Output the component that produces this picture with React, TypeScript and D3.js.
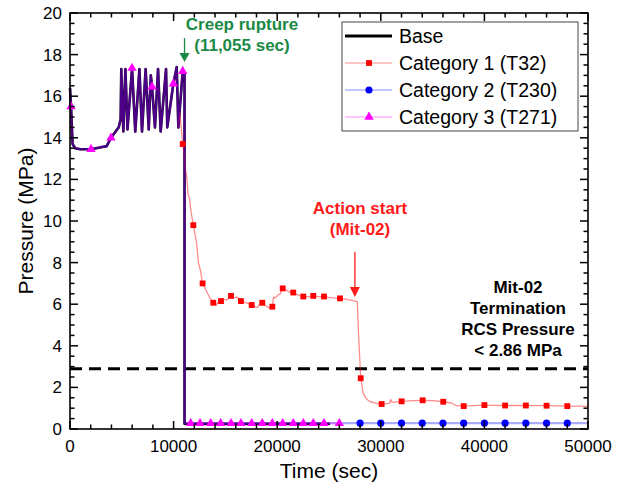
import React from "react";
import * as d3 from "d3";

// ---- data ----
const baseTime = [0, 100, 250, 500, 1000, 2030, 3000, 3540, 3960, 4400, 4700, 4890, 4950, 5150, 5350, 5550, 5990, 6300, 6700, 6950, 7300, 7600, 7800, 7920, 8200, 8500, 8750, 9270, 9390, 9975, 10300, 10460, 10880, 11055, 11055, 25100];
const basePressure = [16.4, 15.5, 13.7, 13.5, 13.45, 13.45, 13.55, 13.6, 14.0, 14.3, 14.5, 14.9, 17.3, 14.3, 17.3, 14.4, 17.35, 14.3, 17.3, 14.3, 17.3, 14.4, 17.0, 16.45, 14.5, 17.3, 14.3, 17.3, 14.5, 16.6, 17.4, 14.5, 17.2, 17.1, 0.25, 0.25];

const cat1Time = [10460, 10600, 10750, 10880, 11000, 11100, 11250, 11400, 11550, 11700, 11900, 12050, 12200, 12400, 12600, 12800, 13000, 13200, 13500, 13830, 14100, 14300, 14575, 14800, 15100, 15540, 15800, 16100, 16500, 16800, 17100, 17540, 17800, 18100, 18300, 18560, 18800, 19100, 19530, 19650, 19800, 20100, 20300, 20530, 20800, 21100, 21550, 22000, 22520, 23000, 23480, 24000, 24520, 25000, 25500, 26060, 26600, 27200, 27730, 27850, 28060, 28310, 28600, 28960, 29500, 30080, 30600, 30850, 30950, 31100, 32010, 33000, 34040, 35000, 36030, 36800, 37300, 38000, 39000, 40000, 41000, 42000, 43000, 44000, 45000, 46000, 47000, 48000, 49000, 50000];
const cat1Pressure = [14.5, 15.2, 14.4, 13.7, 13.3, 12.6, 12.2, 11.3, 11.0, 10.4, 9.8, 9.4, 9.0, 8.0, 7.6, 7.0, 6.8, 6.6, 6.3, 6.07, 5.95, 6.1, 6.15, 6.25, 6.2, 6.4, 6.3, 6.35, 6.15, 6.1, 6.05, 5.96, 5.9, 5.85, 6.0, 6.07, 5.95, 5.85, 5.88, 6.35, 6.3, 6.45, 6.5, 6.76, 6.7, 6.6, 6.56, 6.45, 6.37, 6.35, 6.4, 6.35, 6.37, 6.33, 6.3, 6.28, 6.24, 6.18, 6.12, 4.6, 2.44, 1.71, 1.45, 1.31, 1.24, 1.2, 1.22, 1.24, 1.42, 1.28, 1.33, 1.36, 1.38, 1.36, 1.31, 1.25, 1.12, 1.1, 1.12, 1.15, 1.14, 1.13, 1.13, 1.13, 1.12, 1.12, 1.11, 1.1, 1.1, 1.09];
const cat1MarkerTime = [10880, 11900, 12800, 13830, 14575, 15540, 16500, 17540, 18560, 19530, 20530, 21550, 22520, 23480, 24520, 26060, 28060, 30080, 32010, 34040, 36030, 38000, 40000, 42000, 44000, 46000, 48000];
const cat1MarkerPressure = [13.7, 9.8, 7.0, 6.07, 6.15, 6.4, 6.15, 5.96, 6.07, 5.88, 6.76, 6.56, 6.37, 6.4, 6.37, 6.28, 2.44, 1.2, 1.33, 1.38, 1.31, 1.1, 1.15, 1.13, 1.13, 1.12, 1.1];

const cat2PostTime = [11055, 50000];
const cat2PostPressure = [0.28, 0.28];
const cat2MarkerTime = [28000, 30000, 32000, 34000, 36000, 38000, 40000, 42000, 44000, 46000, 48000];
const cat2MarkerPressure = [0.28, 0.28, 0.28, 0.28, 0.28, 0.28, 0.28, 0.28, 0.28, 0.28, 0.28];

const cat3PostTime = [11055, 26000];
const cat3PostPressure = [0.27, 0.27];
const cat3MarkerTime = [100, 2030, 3960, 5990, 7920, 9975, 10880, 11650, 12550, 13580, 14540, 15540, 16500, 17540, 18560, 19530, 20530, 21550, 22520, 23480, 24520, 26000];
const cat3MarkerPressure = [15.5, 13.45, 14.0, 17.35, 16.45, 16.6, 17.2, 0.27, 0.27, 0.27, 0.27, 0.27, 0.27, 0.27, 0.27, 0.27, 0.27, 0.27, 0.27, 0.27, 0.27, 0.27];

const terminationLevel = 2.9;
const rupturePoint = 11055;
const actionPoint = 27500;

const xTicks = [0, 10000, 20000, 30000, 40000, 50000];
const yTicks = [0, 2, 4, 6, 8, 10, 12, 14, 16, 18, 20];
const legendLabels = ["Base", "Category 1 (T32)", "Category 2 (T230)", "Category 3 (T271)"];

const W = 626, H = 490;
const M = { left: 70, right: 588, top: 13, bottom: 429 };
const FONT = "'Liberation Sans', Arial, Helvetica, sans-serif";

function zip(t: number[], p: number[]) {
  return t.map((v, i) => [v, p[i]] as [number, number]);
}

export default function App() {
  const x = d3.scaleLinear().domain([0, 50000]).range([M.left, M.right]);
  const y = d3.scaleLinear().domain([0, 20]).range([M.bottom, M.top]);
  const line = d3.line<[number, number]>().x((d) => x(d[0])).y((d) => y(d[1]));

  const ruptureIdx = baseTime.findIndex((t, i) => t === rupturePoint && basePressure[i] < 1);
  const basePre = zip(baseTime.slice(0, ruptureIdx), basePressure.slice(0, ruptureIdx));
  const baseData = zip(baseTime, basePressure);
  const cat1Data = zip(cat1Time, cat1Pressure);
  const cat2Data = [...basePre, ...zip(cat2PostTime, cat2PostPressure)];
  const cat3Data = [...basePre, ...zip(cat3PostTime, cat3PostPressure)];

  const xMinor = d3.range(0, 50001, 2000);
  const yMinor = d3.range(0, 20.01, 0.5);
  const tri = d3.symbol().type(d3.symbolTriangle).size(38)();
  const sq = d3.symbol().type(d3.symbolSquare).size(34)();
  const circ = d3.symbol().type(d3.symbolCircle).size(40)();

  const green = "#1a8a45";
  const red = "#ff1a1a";

  const legendY = [36, 63, 90, 117];

  return (
    <svg width={W} height={H} style={{ display: "block", position: "absolute", left: 0, top: 0, background: "#fff" }} fontFamily={FONT}>
      <rect x={0} y={0} width={W} height={H} fill="#fff" />
      {/* dashed termination line */}
      <line x1={M.left} x2={M.right} y1={y(terminationLevel)} y2={y(terminationLevel)} stroke="#000" strokeWidth={3} strokeDasharray="12,7" />

      {/* series lines */}
      <path d={line(baseData) || ""} fill="none" stroke="#000" strokeWidth={2.6} strokeLinejoin="round" />
      <path d={line(cat1Data) || ""} fill="none" stroke="#ff0000" strokeOpacity={0.45} strokeWidth={1.3} strokeLinejoin="round" />
      <path d={line(cat2Data) || ""} fill="none" stroke="#0000ff" strokeOpacity={0.33} strokeWidth={2.2} strokeLinejoin="round" />
      <path d={line(cat3Data) || ""} fill="none" stroke="#ff00ff" strokeOpacity={0.3} strokeWidth={2.2} strokeLinejoin="round" />

      {/* markers */}
      {cat1MarkerTime.map((t, i) => (
        <path key={"s" + i} d={sq || ""} transform={`translate(${x(t)},${y(cat1MarkerPressure[i])})`} fill="#ff0000" />
      ))}
      {cat2MarkerTime.map((t, i) => (
        <path key={"c" + i} d={circ || ""} transform={`translate(${x(t)},${y(cat2MarkerPressure[i])})`} fill="#0000ff" />
      ))}
      {cat3MarkerTime.map((t, i) => (
        <path key={"t" + i} d={tri || ""} transform={`translate(${x(t)},${y(cat3MarkerPressure[i])})`} fill="#ff00ff" />
      ))}

      {/* frame and ticks */}
      <rect x={M.left} y={M.top} width={M.right - M.left} height={M.bottom - M.top} fill="none" stroke="#000" strokeWidth={1.6} />
      {xMinor.map((t) => {
        const major = t % 10000 === 0;
        const L = major ? 8 : 4.5;
        return (
          <g key={"xt" + t} stroke="#000" strokeWidth={1.5}>
            <line x1={x(t)} x2={x(t)} y1={M.bottom} y2={M.bottom - L} />
            <line x1={x(t)} x2={x(t)} y1={M.top} y2={M.top + L} />
          </g>
        );
      })}
      {yMinor.map((v) => {
        const major = Math.abs(v % 2) < 1e-6;
        const L = major ? 8 : 4.5;
        return (
          <g key={"yt" + v} stroke="#000" strokeWidth={1.5}>
            <line x1={M.left} x2={M.left + L} y1={y(v)} y2={y(v)} />
            <line x1={M.right} x2={M.right - L} y1={y(v)} y2={y(v)} />
          </g>
        );
      })}
      {xTicks.map((t) => (
        <text key={"xl" + t} x={x(t)} y={452} fontSize={17} textAnchor="middle" fill="#000">{t}</text>
      ))}
      {yTicks.map((v) => (
        <text key={"yl" + v} x={62} y={y(v) + 6} fontSize={17} textAnchor="end" fill="#000">{v}</text>
      ))}
      <text x={(M.left + M.right) / 2} y={478} fontSize={21} textAnchor="middle" fill="#000">Time (sec)</text>
      <text transform={`translate(33,${(M.top + M.bottom) / 2}) rotate(-90)`} fontSize={21} textAnchor="middle" fill="#000">Pressure (MPa)</text>

      {/* legend */}
      <rect x={342} y={22} width={236} height={109} fill="#fff" stroke="#444" strokeWidth={1} />
      <line x1={345} x2={392} y1={legendY[0]} y2={legendY[0]} stroke="#000" strokeWidth={3} />
      <line x1={345} x2={392} y1={legendY[1]} y2={legendY[1]} stroke="#ff0000" strokeOpacity={0.45} strokeWidth={1.2} />
      <path d={sq || ""} transform={`translate(369,${legendY[1]})`} fill="#ff0000" />
      <line x1={345} x2={392} y1={legendY[2]} y2={legendY[2]} stroke="#0000ff" strokeOpacity={0.45} strokeWidth={1.2} />
      <path d={circ || ""} transform={`translate(369,${legendY[2]})`} fill="#0000ff" />
      <line x1={345} x2={392} y1={legendY[3]} y2={legendY[3]} stroke="#ff00ff" strokeOpacity={0.45} strokeWidth={1.2} />
      <path d={tri || ""} transform={`translate(369,${legendY[3]})`} fill="#ff00ff" />
      {legendLabels.map((l, i) => (
        <text key={l} x={399} y={legendY[i] + 7} fontSize={19.5} fill="#000">{l}</text>
      ))}

      {/* annotations */}
      <g fill={green} fontWeight="bold" fontSize={17} textAnchor="middle">
        <text x={242} y={30}>Creep rupture</text>
        <text x={242} y={51}>(11,055 sec)</text>
      </g>
      <line x1={x(rupturePoint)} x2={x(rupturePoint)} y1={38} y2={55} stroke={green} strokeWidth={1.3} />
      <path d={`M${x(rupturePoint) - 5},53 L${x(rupturePoint) + 5},53 L${x(rupturePoint)},62 Z`} fill={green} />

      <g fill={red} fontWeight="bold" fontSize={17} textAnchor="middle">
        <text x={360} y={214}>Action start</text>
        <text x={360} y={235}>(Mit-02)</text>
      </g>
      <line x1={x(actionPoint)} x2={x(actionPoint)} y1={252} y2={290} stroke={red} strokeWidth={1.3} />
      <path d={`M${x(actionPoint) - 5},287 L${x(actionPoint) + 5},287 L${x(actionPoint)},297 Z`} fill={red} />

      <g fill="#000" fontWeight="bold" fontSize={17} textAnchor="middle">
        <text x={518} y={293}>Mit-02</text>
        <text x={518} y={314}>Termination</text>
        <text x={518} y={335}>RCS Pressure</text>
        <text x={518} y={356}>&lt; 2.86 MPa</text>
      </g>
    </svg>
  );
}
